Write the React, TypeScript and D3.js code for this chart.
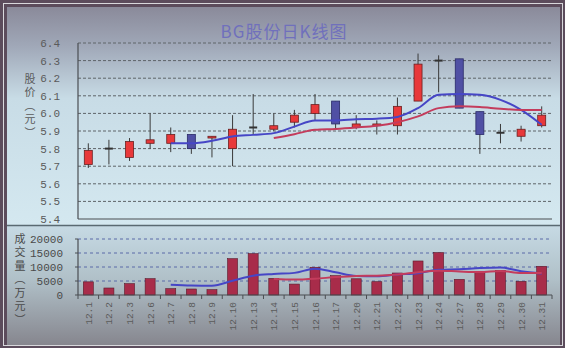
import React from "react";
import * as d3 from "d3";

const dates = ["12.1","12.2","12.3","12.6","12.7","12.8","12.9","12.10","12.13","12.14","12.15","12.16","12.17","12.20","12.21","12.22","12.23","12.24","12.27","12.28","12.29","12.30","12.31"];
const openP = [5.71,5.80,5.75,5.83,5.83,5.88,5.86,5.80,5.92,5.91,5.95,6.00,6.07,5.92,5.93,5.93,6.07,6.30,6.31,6.01,5.89,5.87,5.93];
const highP = [5.83,5.85,5.86,6.00,5.92,5.88,5.87,5.99,6.11,6.00,6.02,6.11,6.07,5.99,5.96,6.09,6.34,6.33,6.31,6.01,5.94,5.93,6.04];
const lowP  = [5.69,5.71,5.73,5.80,5.78,5.77,5.75,5.70,5.88,5.90,5.92,5.96,5.91,5.91,5.88,5.88,6.07,6.12,6.03,5.77,5.83,5.84,5.92];
const closeP= [5.79,5.80,5.84,5.85,5.88,5.80,5.87,5.91,5.92,5.93,5.99,6.05,5.94,5.94,5.94,6.04,6.28,6.30,6.03,5.88,5.89,5.91,5.99];
const maShortP = [null,null,null,null,5.83,5.83,5.844,5.869,5.878,5.888,5.925,5.96,5.96,5.967,5.97,5.98,6.03,6.106,6.11,6.106,6.077,6.02,5.935];
const maLongP  = [null,null,null,null,null,null,null,null,null,5.86,5.882,5.907,5.912,5.92,5.93,5.95,5.983,6.03,6.04,6.036,6.026,6.02,6.02];
const volume = [4700,2500,4050,5830,2260,2140,1900,12980,14760,5950,3900,9900,6900,5800,4750,7850,12150,15150,5600,8200,8800,4850,10250];
const maShortV = [null,null,null,null,3700,3400,3300,5100,6900,7500,7900,9400,8100,6800,6700,7300,7800,9000,9200,9600,9800,8500,7700];
const maLongV  = [null,null,null,null,null,null,null,null,null,5700,5500,5800,6400,6800,6900,7300,8100,8700,8400,8200,8600,7900,7900];
const priceTicks = [5.4,5.5,5.6,5.7,5.8,5.9,6.0,6.1,6.2,6.3,6.4];
const volTicks = [0,5000,10000,15000,20000];
const title = "BG股份日K线图";
const priceLabel = "股价（元）";
const volLabel = "成交量（万元）";

const W = 565, H = 348;
const PL = 78, PR = 552;

export default function App() {
  const x = d3.scaleBand().domain(dates).range([PL, PR]).paddingInner(0).paddingOuter(0);
  const bw = x.bandwidth();
  const cx = (d: string) => (x(d) as number) + bw / 2;
  const yP = d3.scaleLinear().domain([5.4, 6.4]).range([219, 43]);
  const yV = d3.scaleLinear().domain([0, 20000]).range([295, 239]);

  const lineP = d3.line<number | null>()
    .defined(d => d != null)
    .x((_, i) => cx(dates[i]))
    .y(d => yP(d as number))
    .curve(d3.curveMonotoneX);
  const lineV = d3.line<number | null>()
    .defined(d => d != null)
    .x((_, i) => cx(dates[i]))
    .y(d => yV(d as number))
    .curve(d3.curveMonotoneX);

  const mono = "'Liberation Mono', 'DejaVu Sans Mono', monospace";
  const cjk = "'Noto Sans CJK SC', sans-serif";
  const candleW = 8;

  return (
    <svg width={W} height={H} style={{ position: "fixed", left: 0, top: 0 }} xmlns="http://www.w3.org/2000/svg">
      <defs>
        <linearGradient id="gTop" x1="0" y1="0" x2="0" y2="1">
          <stop offset="0" stopColor="#8a8a9a" />
          <stop offset="0.18" stopColor="#a0a8b8" />
          <stop offset="0.42" stopColor="#c8dce6" />
          <stop offset="1" stopColor="#d4e8f0" />
        </linearGradient>
        <linearGradient id="gBot" x1="0" y1="0" x2="0" y2="1">
          <stop offset="0" stopColor="#c6dae4" />
          <stop offset="0.45" stopColor="#b0c0c8" />
          <stop offset="1" stopColor="#86868e" />
        </linearGradient>
      </defs>
      <rect x={0} y={0} width={W} height={H} fill="#5c4c5c" />
      <rect x={3.5} y={3.5} width={559} height={342} fill="none" stroke="#d8d8dc" strokeWidth={1} />
      <rect x={7} y={7} width={553} height={218} fill="url(#gTop)" />
      <rect x={7} y={226} width={553} height={119} fill="url(#gBot)" />
      <line x1={7} x2={560} y1={225.5} y2={225.5} stroke="#5a6a72" strokeWidth={1.5} />

      <text x={284} y={38} textAnchor="middle" fontFamily={cjk} fontSize={17} fill="#7070bc" letterSpacing={1}>{title}</text>

      {/* price gridlines */}
      {priceTicks.map(t => (
        <g key={"pt" + t}>
          {t > 5.4 && <line x1={PL} x2={PR} y1={yP(t)} y2={yP(t)} stroke="#5e6468" strokeWidth={1} strokeDasharray="3,2" />}
          <text x={60} y={yP(t) + 4} textAnchor="end" fontFamily={mono} fontSize={11} fill="#5a5a5a">{t.toFixed(1)}</text>
        </g>
      ))}
      <line x1={PL} x2={PL} y1={43} y2={219} stroke="#4a4e52" strokeWidth={1.2} />
      <line x1={PL} x2={PR} y1={219} y2={219} stroke="#4a4e52" strokeWidth={1.2} />
      <text x={30} y={73} style={{ writingMode: "vertical-rl" as any }} fontFamily={cjk} fontSize={11} letterSpacing={2.5} fill="#5a5a5a">{priceLabel}</text>

      {/* candles */}
      {dates.map((d, i) => {
        const o = openP[i], c = closeP[i], h = highP[i], l = lowP[i];
        const xc = cx(d);
        const doji = o === c;
        const up = c > o;
        const fill = up ? "#e8383a" : "#5050a4";
        const stroke = up ? "#6a2020" : "#2a2a68";
        const top = yP(Math.max(o, c)), bot = yP(Math.min(o, c));
        return (
          <g key={"c" + d}>
            <line x1={xc} x2={xc} y1={yP(h)} y2={yP(l)} stroke="#3a3a3a" strokeWidth={1} />
            {doji ? (
              <line x1={xc - candleW / 2} x2={xc + candleW / 2} y1={top} y2={top} stroke="#333" strokeWidth={2} />
            ) : (
              <rect x={xc - candleW / 2} y={top} width={candleW} height={Math.max(bot - top, 1.5)} fill={fill} stroke={stroke} strokeWidth={0.8} />
            )}
          </g>
        );
      })}
      <path d={lineP(maShortP) || ""} fill="none" stroke="#4646c6" strokeWidth={2} />
      <path d={lineP(maLongP) || ""} fill="none" stroke="#c43c5c" strokeWidth={2} />

      {/* volume panel */}
      {volTicks.map(t => (
        <g key={"vt" + t}>
          {t > 0 && <line x1={PL} x2={PR} y1={yV(t)} y2={yV(t)} stroke="#5a6aa8" strokeWidth={1} strokeDasharray="3,3" />}
          <line x1={PL - 3} x2={PL} y1={yV(t)} y2={yV(t)} stroke="#4a4e52" strokeWidth={1} />
          <text x={63} y={yV(t) + 4} textAnchor="end" fontFamily={mono} fontSize={11} fill="#4a4a4a">{String(t)}</text>
        </g>
      ))}
      {dates.map((d, i) => (
        <rect key={"v" + d} x={cx(d) - 5} y={yV(volume[i])} width={10} height={yV(0) - yV(volume[i])} fill="#a82c4a" stroke="#5a1a2a" strokeWidth={0.6} />
      ))}
      <path d={lineV(maShortV) || ""} fill="none" stroke="#4646c6" strokeWidth={2} />
      <path d={lineV(maLongV) || ""} fill="none" stroke="#c43c5c" strokeWidth={2} />
      <line x1={PL} x2={PL} y1={239} y2={295} stroke="#4a4e52" strokeWidth={1.2} />
      <line x1={PL} x2={PR} y1={295} y2={295} stroke="#4a4e52" strokeWidth={1.2} />
      {dates.concat([""]).map((d, i) => {
        const xx = PL + i * bw;
        return <line key={"xt" + i} x1={xx} x2={xx} y1={295} y2={299} stroke="#4a4e52" strokeWidth={1} />;
      })}
      {dates.map(d => (
        <text key={"xl" + d} transform={`translate(${cx(d) + 3.5},302) rotate(-90)`} textAnchor="end" fontFamily={mono} fontSize={9.5} fill="#5a5a5a">{d}</text>
      ))}
      <text x={20} y={233} style={{ writingMode: "vertical-rl" as any }} fontFamily={cjk} fontSize={11} letterSpacing={2.5} fill="#4a4a4a">{volLabel}</text>
    </svg>
  );
}
